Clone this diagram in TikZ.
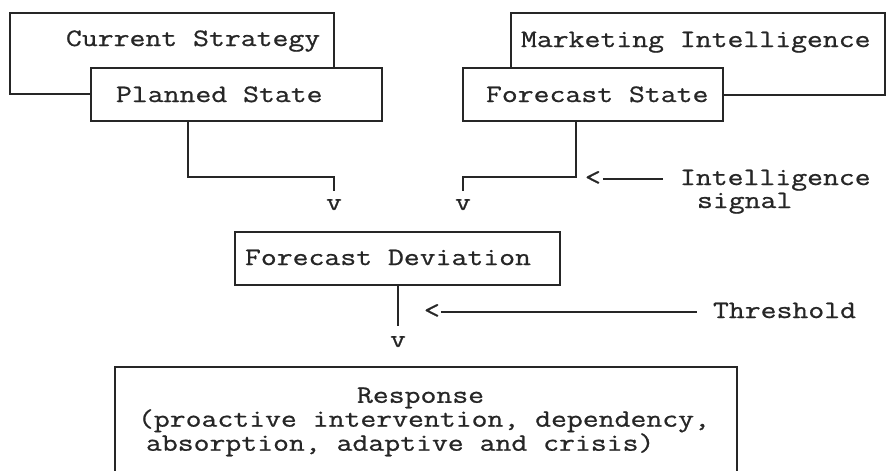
\documentclass[tikz,border=0pt]{standalone}
\usepackage{fontspec}
\newfontfamily\tw[FakeStretch=1.234,FakeBold=0.8]{Latin Modern Mono}
\definecolor{ink}{HTML}{262626}
\begin{document}
\begin{tikzpicture}[x=1pt,y=-1pt,
  box/.style={draw=ink, line width=1.5pt, fill=white, inner sep=0pt, outer sep=0pt},
  txt/.style={inner sep=0pt, outer sep=0pt, anchor=base west, text=ink, font=\tw\fontsize{25}{23}\selectfont},
  tip/.style={inner sep=0pt, outer sep=0pt, anchor=base, text=ink, font=\tw\fontsize{25}{23}\selectfont},
  conn/.style={draw=ink, line width=1.5pt}]
\useasboundingbox (0,0) rectangle (886,471);
\fill[white] (0,0) rectangle (886,471);
\clip (0,0) rectangle (886,471);
% back boxes
\node[box, minimum width=324pt, minimum height=81pt] (cs) at (172,53.5) {};
\node[box, minimum width=374pt, minimum height=82pt] (mi) at (698,54) {};
% front boxes
\node[box, minimum width=291pt, minimum height=53pt] (ps) at (236.5,94.5) {};
\node[box, minimum width=260pt, minimum height=53pt] (fs) at (593,94.5) {};
\node[box, minimum width=325pt, minimum height=53pt] (fd) at (397.5,258.5) {};
\node[box, minimum width=622pt, minimum height=123pt] (resp) at (426,428.5) {};
% texts
\node[txt] (tcs) at (66,46) {Current Strategy};
\node[txt] (tps) at (116,102) {Planned State};
\node[txt] (tmi) at (521,47) {Marketing Intelligence};
\node[txt] (tfs) at (486,102) {Forecast State};
\node[txt] (tfd) at (245,265) {Forecast Deviation};
\node[txt] (sig1) at (680,185) {Intelligence};
\node[txt] (sig2) at (697,208) {signal};
\node[txt] (thr) at (713,318) {Threshold};
\node[txt, anchor=north west, align=left, font=\tw\fontsize{25}{18}\selectfont] (rtext) at (138,387.5)
  {\hspace*{219pt}Response\\(proactive intervention, dependency,\\\hspace*{8pt}absorption, adaptive and crisis)};
% arrow heads as printed characters
\node[tip] (vl) at (334,210) {v};
\node[tip] (vr) at (463,210) {v};
\node[tip] (vm) at (398,347) {v};
\node[txt] (ltsig) at (585,185) {<};
\node[txt] (ltthr) at (424,318) {<};
% connectors
\coordinate (lc) at (188,177);
\coordinate (rc) at (576,177);
\coordinate (sigend) at (663,179);
\coordinate (thrend) at (697,312);
\draw[conn] (lc |- ps.south) -- (lc) -| ([yshift=8pt]vl.north);
\draw[conn] (rc |- fs.south) -- (rc) -| ([yshift=8pt]vr.north);
\draw[conn] (vm |- fd.south) -- ([yshift=10pt]vm.north);
\draw[conn] ([xshift=2pt]ltsig.east |- sigend) -- (sigend);
\draw[conn] ([xshift=1pt]ltthr.east |- thrend) -- (thrend);
\end{tikzpicture}
\end{document}
